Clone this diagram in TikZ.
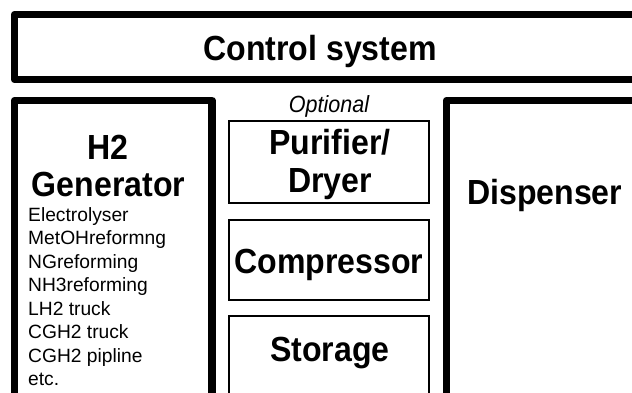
\documentclass[tikz,border=0pt]{standalone}
\usepackage{fontspec}
\setmainfont{Liberation Sans}
\newfontfamily\tallsans[FakeStretch=0.92]{Liberation Sans}
\begin{document}
\begin{tikzpicture}[x=1bp,y=-1bp,
  thick box/.style={draw=black,line width=7.5bp,line join=round},
  thin box/.style={draw=black,line width=2bp},
  big/.style={font=\tallsans\fontsize{35}{36}\selectfont\bfseries,inner sep=0pt,anchor=base},
  small/.style={font=\fontsize{19.3}{23.6}\selectfont,inner sep=0pt,anchor=north west,align=left},
  opt/.style={font=\tallsans\fontsize{23.5}{26}\selectfont\itshape,inner sep=0pt,anchor=base}]
\useasboundingbox (0,0) rectangle (632,392);
\begin{scope}
\clip (0,0) rectangle (632,392);
% control system
\draw[thick box] (660,14.5) -- (14.5,14.5) -- (14.5,79.5) -- (660,79.5);
\node[big] (ctrl) at (320,60) {Control system};
% H2 generator
\draw[thick box] (14.5,420) -- (14.5,100.5) -- (212,100.5) -- (212,420);
\node[big] (h2) at (108,159) {H2};
\node[big] (gen) at (108.5,196) {Generator};
\node[small] (list) at (28,207) {Electrolyser\\MetOHreformng\\NGreforming\\NH3reforming\\LH2 truck\\CGH2 truck\\CGH2 pipline\\etc.};
% middle
\node[opt] (optl) at (329,112) {Optional};
\draw[thin box] (229,121) rectangle (429,203);
\node[big] (pur) at (330,154) {Purifier/};
\node[big] (dry) at (330,192) {Dryer};
\draw[thin box] (229,219.5) rectangle (429,300);
\node[big] (comp) at (329,273) {Compressor};
\draw[thin box] (229,420) -- (229,316) -- (429,316) -- (429,420);
\node[big] (stor) at (330,361) {Storage};
% dispenser
\draw[thick box] (446.5,420) -- (446.5,100.5) -- (660,100.5);
\node[big,anchor=base west] (disp) at (467,204) {Dispenser};
\end{scope}
\end{tikzpicture}
\end{document}
